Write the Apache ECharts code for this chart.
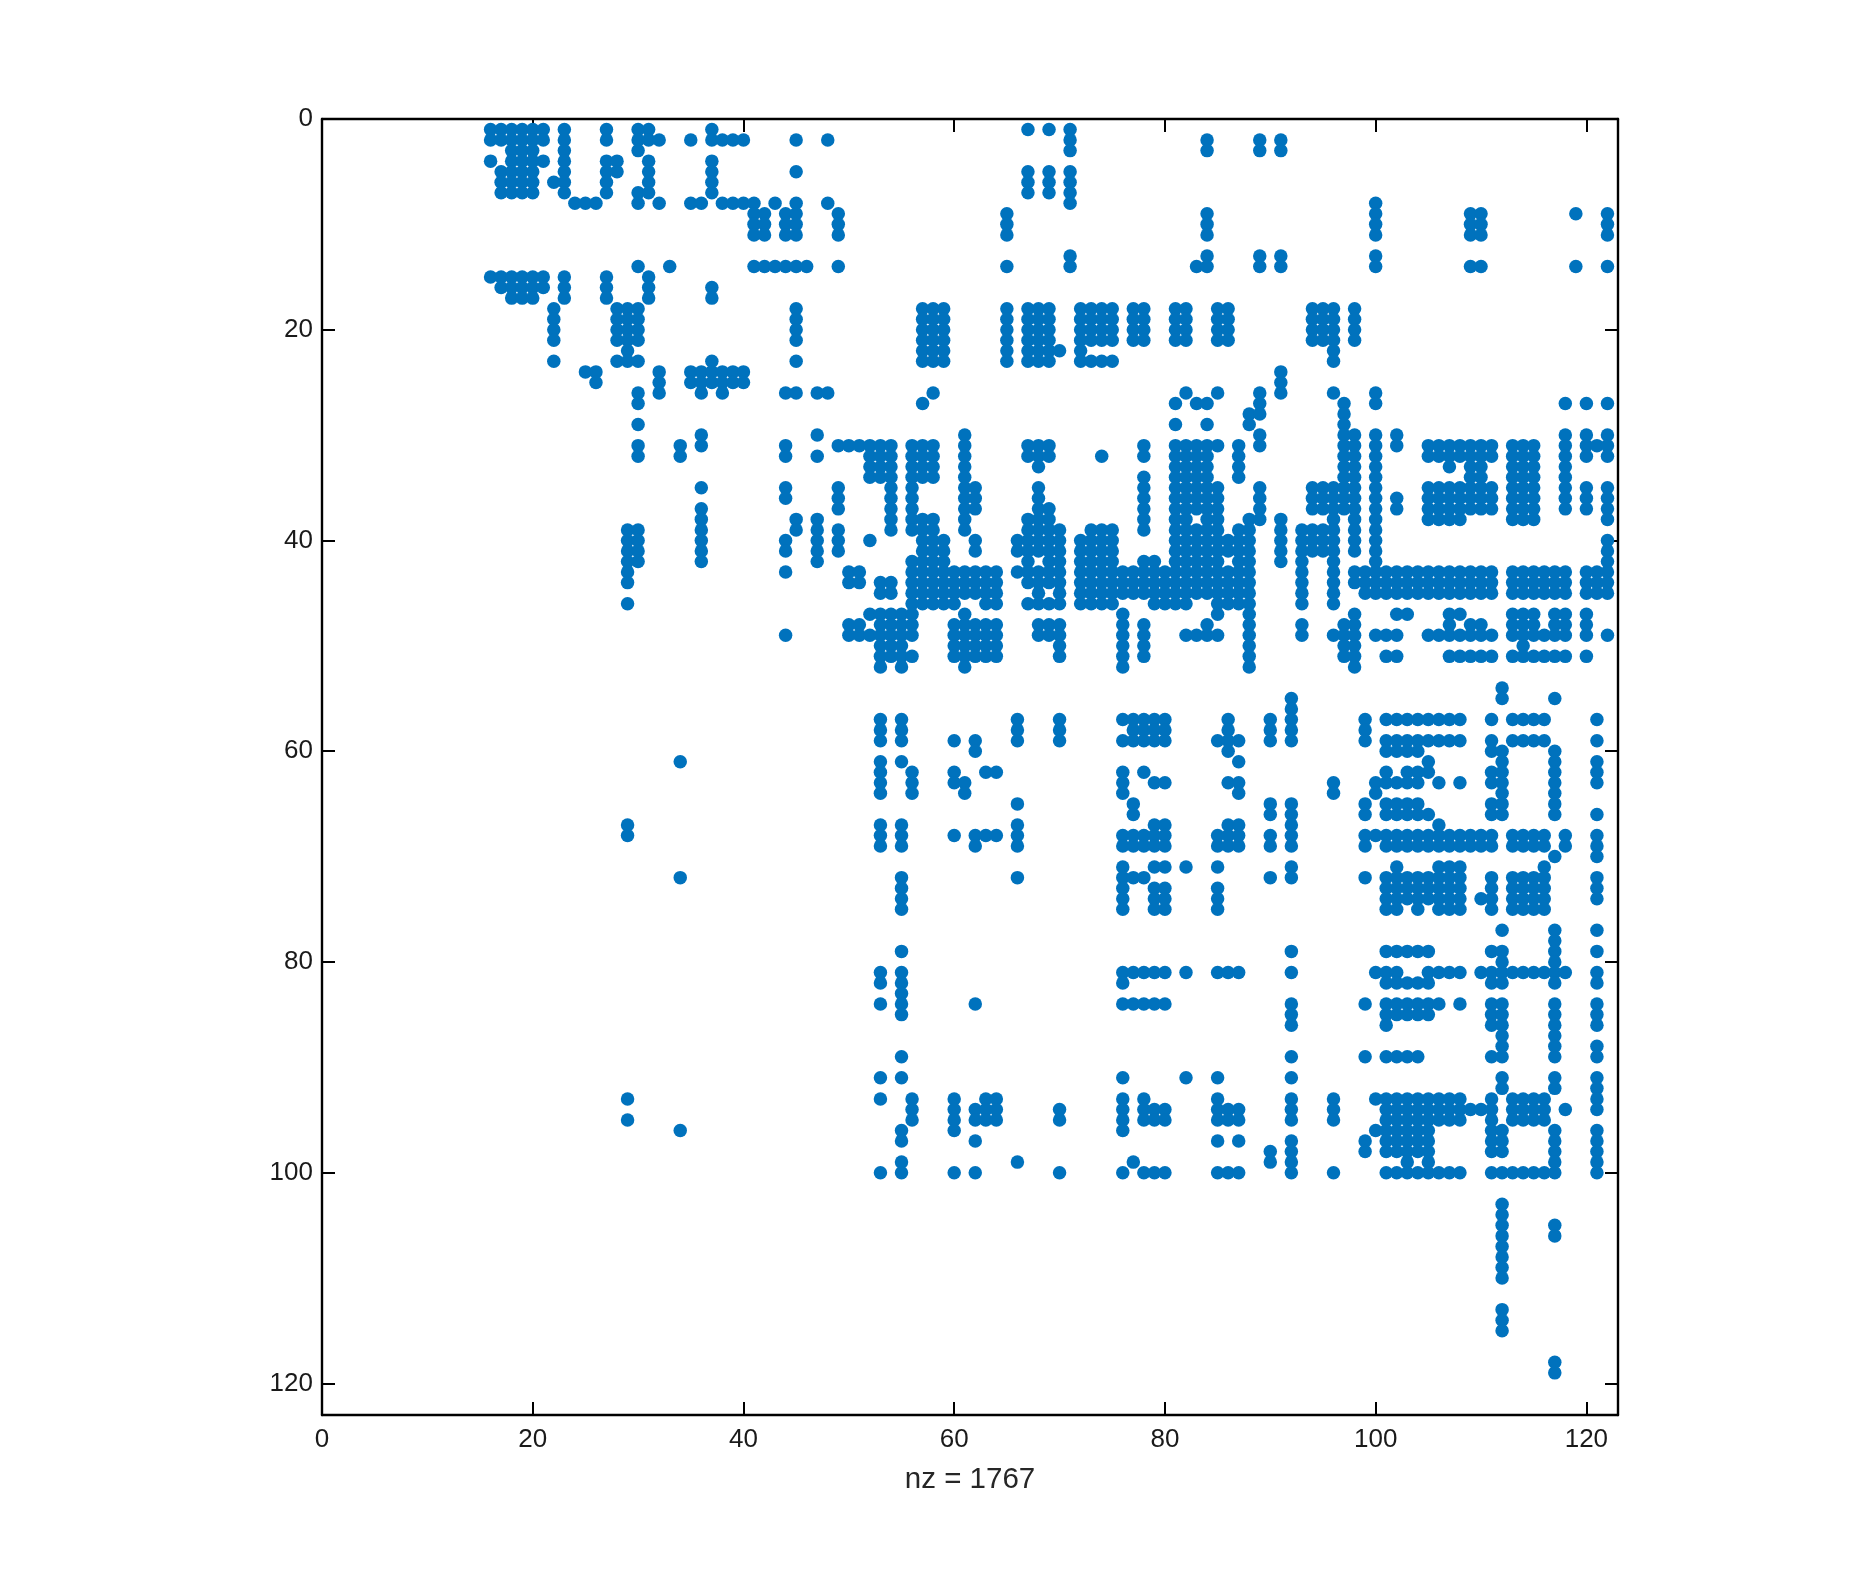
<!DOCTYPE html>
<html>
<head>
<meta charset="utf-8">
<title>spy</title>
<script src="https://cdn.jsdelivr.net/npm/echarts@6/dist/echarts.min.js"></script>
<style>
  html, body { margin: 0; background: #fff; }
  #chart { width: 1875px; height: 1592px; }
</style>
</head>
<body>
<div id="chart"></div>
<script>
// tick labels
const xTicks = [0, 20, 40, 60, 80, 100, 120];
const yTicks = [0, 20, 40, 60, 80, 100, 120];
const xLabel = "nz = 1767";

// non zero columns per row. [row, [columns]]
const topRows = [
  [1, [16,17,18,19,20,21,23,27,30,31,37,67,69,71]],
  [2, [16,17,18,19,20,21,23,27,30,31,32,35,37,38,39,40,45,48,71,84,89,91]],
  [3, [18,19,20,23,30,71,84,89,91]],
  [4, [16,18,19,20,21,23,27,28,31,37]],
  [5, [17,18,19,20,23,27,28,31,37,45,67,69,71]],
  [6, [17,18,19,20,22,23,27,31,37,67,69,71]],
  [7, [17,18,19,20,23,27,30,31,37,67,69,71]],
  [8, [24,25,26,30,32,35,36,38,39,40,41,43,45,48,71,100]],
  [9, [41,42,44,45,49,65,84,100,109,110,119,122]],
  [10, [41,42,44,45,49,65,84,100,109,110,122]],
  [11, [41,42,44,45,49,65,84,100,109,110,122]],
  [13, [71,84,89,91,100]],
  [14, [30,33,41,42,43,44,45,46,49,65,71,83,84,89,91,100,109,110,119,122]],
  [15, [16,17,18,19,20,21,23,27,31]],
  [16, [17,18,19,20,21,23,27,31,37]],
  [17, [18,19,20,23,27,31,37]],
  [18, [22,28,29,30,45,57,58,59,65,67,68,69,72,73,74,75,77,78,81,82,85,86,94,95,96,98]],
  [19, [22,28,29,30,45,57,58,59,65,67,68,69,72,73,74,75,77,78,81,82,85,86,94,95,96,98]],
  [20, [22,28,29,30,45,57,58,59,65,67,68,69,72,73,74,75,77,78,81,82,85,86,94,95,96,98]],
  [21, [22,28,29,30,45,57,58,59,65,67,68,69,72,73,74,75,77,78,81,82,85,86,94,95,96,98]],
  [22, [29,57,58,59,65,67,68,69,70,72,96]],
  [23, [22,28,29,30,37,45,57,58,59,65,67,68,69,72,73,74,75,96]],
  [24, [25,26,32,35,36,37,38,39,40,91]],
  [25, [26,32,35,36,37,38,39,40,91]]
];

const middleRows = [
  [26, [30,32,36,38,44,45,47,48,58,82,85,89,91,96,100]],
  [27, [30,57,81,83,84,89,97,100,118,120,122]],
  [28, [88,89,97]],
  [29, [30,81,84,88,97]],
  [30, [36,47,61,89,97,98,100,102,118,120,122]],
  [31, [30,34,36,44,49,50,51,52,53,54,56,57,58,61,67,68,69,78,81,82,83,84,85,87,89,97,98,100,102,105,106,107,108,109,110,111,113,114,115,118,120,121,122]],
  [32, [30,34,44,47,52,53,54,56,57,58,61,67,68,69,74,78,81,82,83,84,87,97,98,100,105,106,107,108,109,110,111,113,114,115,118,120,122]],
  [33, [52,53,54,56,57,58,61,68,81,82,83,84,87,97,98,100,107,109,110,113,114,115,118]],
  [34, [52,53,54,56,57,58,61,78,81,82,83,84,87,97,98,100,109,110,113,114,115,118]],
  [35, [36,44,49,54,56,61,62,68,78,81,82,83,84,85,89,94,95,96,97,98,100,105,106,107,108,109,110,111,113,114,115,118,120,122]],
  [36, [44,49,54,56,61,62,68,78,81,82,83,84,85,89,94,95,96,97,98,100,102,105,106,107,108,109,110,111,113,114,115,118,120,122]],
  [37, [36,49,54,56,61,62,68,69,78,81,82,83,84,85,89,94,95,96,97,98,100,102,105,106,107,108,109,110,111,113,114,115,118,120,122]],
  [38, [36,45,47,54,56,57,58,61,67,68,69,78,81,82,84,85,88,89,91,96,98,100,105,106,107,108,113,114,115,122]],
  [39, [29,30,36,45,47,49,54,56,57,58,61,67,68,69,70,73,74,75,78,81,82,83,84,85,87,88,91,93,94,95,96,98,100]],
  [40, [29,30,36,44,47,49,52,57,58,59,62,66,67,68,69,70,72,73,74,75,81,82,83,84,85,86,87,88,91,93,94,95,96,98,100,122]],
  [41, [29,30,36,44,47,49,57,58,59,62,66,67,68,69,70,72,73,74,75,81,82,83,84,85,86,87,88,91,93,94,95,96,98,100,122]],
  [42, [29,30,36,47,56,57,58,59,67,69,70,72,73,74,75,78,79,81,82,83,84,85,87,88,91,93,96,100,122]],
  [43, [29,44,50,51,56,57,58,59,60,61,62,63,64,66,67,68,69,70,72,73,74,75,76,77,78,79,80,81,82,83,84,85,86,87,88,93,96,98,99,100,101,102,103,104,105,106,107,108,109,110,111,113,114,115,116,117,118,120,121,122]],
  [44, [29,50,51,53,54,56,57,58,59,60,61,62,63,64,67,68,69,70,72,73,74,75,76,77,78,79,80,81,82,83,84,85,86,87,88,93,96,98,99,100,101,102,103,104,105,106,107,108,109,110,111,113,114,115,116,117,118,120,121,122]],
  [45, [53,54,56,57,58,59,60,61,62,63,64,68,70,72,73,74,75,76,77,78,79,80,81,82,83,84,85,86,87,88,93,96,99,100,101,102,103,104,105,106,107,108,109,110,111,113,114,115,116,117,118,120,121,122]],
  [46, [29,56,57,58,59,60,63,64,67,68,69,70,72,73,74,75,79,80,81,82,85,86,87,88,93,96]],
  [47, [52,53,54,55,56,61,76,85,88,98,102,103,107,108,113,114,115,117,118,120]],
  [48, [50,51,53,54,55,56,60,61,62,63,64,68,69,70,76,78,84,88,93,97,98,107,109,110,113,114,115,117,118,120]],
  [49, [44,50,51,52,53,54,55,56,60,61,62,63,64,68,69,70,76,78,82,83,84,85,88,93,96,97,98,100,101,102,105,106,107,108,109,110,111,113,114,115,116,117,118,120,122]],
  [50, [53,54,55,60,61,62,63,64,70,76,78,88,97,98,114]],
  [51, [53,54,55,56,60,61,62,63,64,70,76,78,88,97,98,101,102,107,108,109,110,111,113,114,115,116,117,118,120]],
  [52, [53,55,61,76,88,98]]
];

const lowerRows = [
  [54, [112]],
  [55, [92,112,117]],
  [56, [92]],
  [57, [53,55,66,70,76,77,78,79,80,86,90,92,99,101,102,103,104,105,106,107,108,111,113,114,115,116,121]],
  [58, [53,55,66,70,77,78,79,80,86,90,92,99]],
  [59, [53,55,60,62,66,70,76,77,78,79,80,85,86,87,90,92,99,101,102,103,104,105,106,107,108,111,113,114,115,116,121]],
  [60, [62,86,101,102,103,104,111,112,117]],
  [61, [34,53,55,87,105,112,117,121]],
  [62, [53,56,60,63,64,76,78,101,103,104,105,111,112,117,121]],
  [63, [53,56,60,61,76,79,80,86,87,96,100,101,102,103,104,106,108,111,112,117,121]],
  [64, [53,56,61,76,87,96,100,112,117]],
  [65, [66,77,90,92,99,101,102,103,104,111,112,117]],
  [66, [77,90,92,99,101,102,103,104,105,111,112,117,121]],
  [67, [29,53,55,66,79,80,86,87,92,106]],
  [68, [29,53,55,60,62,63,64,66,76,77,78,79,80,85,86,87,90,92,99,100,101,102,103,104,105,106,107,108,109,110,111,113,114,115,116,118,121]],
  [69, [53,55,62,66,76,77,78,79,80,85,86,87,90,92,99,101,102,103,104,105,106,107,108,109,110,111,113,114,115,116,118,121]],
  [70, [117,121]],
  [71, [76,79,80,82,85,92,102,106,107,108,116]],
  [72, [34,55,66,76,77,78,90,92,99,101,102,103,104,105,106,107,108,111,113,114,115,116,121]],
  [73, [55,76,79,80,85,101,102,103,104,105,106,107,108,111,113,114,115,116,121]],
  [74, [55,76,79,80,85,101,102,103,104,105,106,107,108,110,111,113,114,115,116,121]],
  [75, [55,76,79,80,85,101,102,104,106,107,108,111,113,114,115,116]],
  [77, [112,117,121]],
  [78, [117]],
  [79, [55,92,101,102,103,104,105,111,112,117,121]],
  [80, [112,117]],
  [81, [53,55,76,77,78,79,80,82,85,86,87,92,100,101,102,105,106,107,108,110,111,112,113,114,115,116,117,118,121]],
  [82, [53,55,76,101,102,103,104,105,111,112,117,121]],
  [83, [55]],
  [84, [53,55,62,76,77,78,79,80,92,99,101,102,103,104,105,106,108,111,112,117,121]],
  [85, [55,92,101,102,103,104,105,111,112,117,121]],
  [86, [92,101,111,112,117,121]],
  [87, [112,117]],
  [88, [112,117,121]],
  [89, [55,92,99,101,102,103,104,111,112,117,121]],
  [91, [53,55,76,82,85,92,112,117,121]],
  [92, [112,117,121]],
  [93, [29,53,56,60,63,64,76,78,85,92,96,100,101,102,103,104,105,106,107,108,111,113,114,115,116,121]],
  [94, [56,60,62,63,64,70,76,78,79,80,85,86,87,92,96,101,102,103,104,105,106,107,108,109,110,111,113,114,115,116,118,121]],
  [95, [29,56,60,62,63,64,70,76,78,79,80,85,86,87,92,96,101,102,103,104,105,106,107,108,111,113,114,115,116]],
  [96, [34,55,60,76,100,101,102,103,104,105,111,112,117,121]],
  [97, [55,62,85,87,92,99,101,102,103,104,105,111,112,117,121]],
  [98, [90,92,99,101,102,103,104,105,111,112,117,121]],
  [99, [55,66,77,90,92,103,105,117,121]],
  [100, [53,55,60,62,70,76,78,79,80,85,86,87,92,96,101,102,103,104,105,106,107,108,111,112,113,114,115,116,117,121]],
  [103, [112]], [104, [112]], [105, [112,117]], [106, [112,117]],
  [107, [112]], [108, [112]], [109, [112]], [110, [112]],
  [113, [112]], [114, [112]], [115, [112]],
  [118, [117]], [119, [117]]
];

// [col, row] pairs for the scatter
const spyPoints = [];
[...topRows, ...middleRows, ...lowerRows].forEach(([row, cols]) => {
  cols.forEach(col => spyPoints.push([col, row]));
});

const chart = echarts.init(document.getElementById("chart"));

const fontFamily = '"Liberation Sans", sans-serif';
const lineStyle = { color: "#000", width: 2.4 };

const makeAxis = (ticks, extra) => ({
  type: "value",
  min: 0,
  max: 123,
  axisLine: { show: true, onZero: false, lineStyle },
  axisTick: { show: true, inside: true, length: 13, customValues: ticks, lineStyle: { color: "#000", width: 2 } },
  splitLine: { show: false },
  ...extra
});

const labelStyle = { color: "#1a1a1a", fontSize: 26, fontFamily, margin: 9 };

chart.setOption({
  animation: false,
  backgroundColor: "#fff",
  grid: { left: 322, top: 119, width: 1296, height: 1296, containLabel: false },
  xAxis: [
    makeAxis(xTicks, {
      position: "bottom",
      name: xLabel,
      nameLocation: "middle",
      nameGap: 50,
      nameTextStyle: { color: "#262626", fontSize: 29.5, fontFamily },
      axisLabel: { ...labelStyle, margin: 12, customValues: xTicks }
    }),
    makeAxis(xTicks, { position: "top", axisLabel: { show: false } })
  ],
  yAxis: [
    makeAxis(yTicks, {
      position: "left",
      inverse: true,
      axisLabel: { ...labelStyle, customValues: yTicks }
    }),
    makeAxis(yTicks, { position: "right", inverse: true, axisLabel: { show: false } })
  ],
  series: [
    {
      type: "scatter",
      symbol: "circle",
      symbolSize: 13.5,
      clip: false,
      itemStyle: { color: "#0072bd", opacity: 1 },
      data: spyPoints
    }
  ]
});

window.addEventListener("resize", () => chart.resize());
</script>
</body>
</html>
